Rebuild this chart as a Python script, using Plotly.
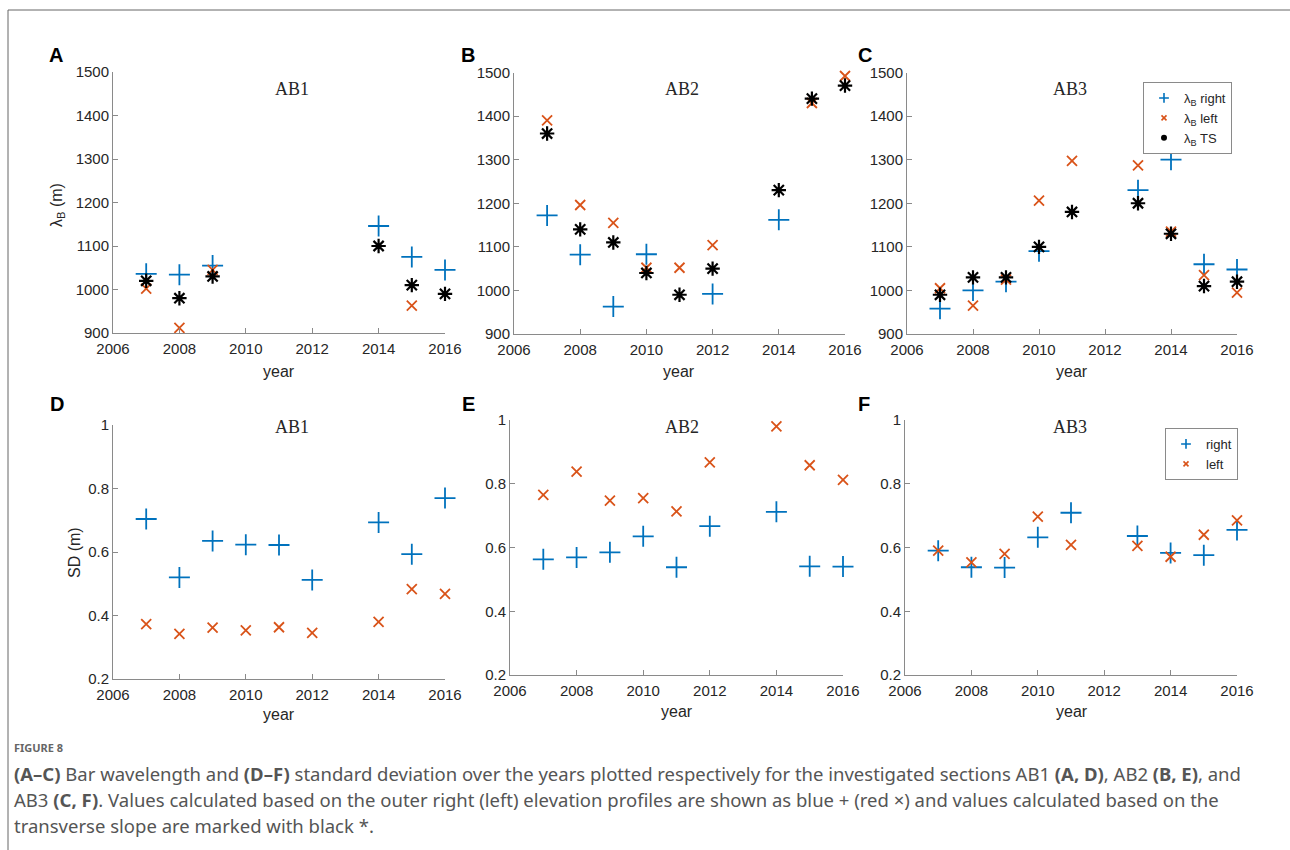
import plotly.graph_objects as go

# ---- data -------------------------------------------------------------
# Bar wavelength lambda_B (m); None = no value within the plotted range
years_A = [2007, 2008, 2009, 2014, 2015, 2016]
lam_right_A = [1036, 1034, 1055, 1146, 1075, 1045]
lam_left_A = [1002, 912, 1045, None, 963, None]
lam_ts_A = [1020, 980, 1030, 1100, 1010, 990]

years_B = [2007, 2008, 2009, 2010, 2011, 2012, 2014, 2015, 2016]
lam_right_B = [1172, 1082, 963, 1083, None, 992, 1162, None, None]
lam_left_B = [1390, 1196, 1155, 1052, 1052, 1104, None, 1430, 1492]
lam_ts_B = [1360, 1140, 1110, 1040, 990, 1050, 1230, 1440, 1470]

years_C = [2007, 2008, 2009, 2010, 2011, 2013, 2014, 2015, 2016]
lam_right_C = [958, 1000, 1020, 1090, None, 1230, 1300, 1060, 1048]
lam_left_C = [1005, 965, 1025, 1206, 1297, 1287, 1135, 1035, 995]
lam_ts_C = [990, 1030, 1030, 1100, 1180, 1200, 1130, 1010, 1020]

# Standard deviation SD (m)
years_D = [2007, 2008, 2009, 2010, 2011, 2012, 2014, 2015, 2016]
sd_right_D = [0.704, 0.520, 0.635, 0.623, 0.622, 0.512, 0.693, 0.593, 0.770]
sd_left_D = [0.373, 0.342, 0.362, 0.353, 0.363, 0.345, 0.380, 0.483, 0.468]

years_E = [2007, 2008, 2009, 2010, 2011, 2012, 2014, 2015, 2016]
sd_right_E = [0.563, 0.569, 0.585, 0.635, 0.538, 0.667, 0.712, 0.541, 0.540]
sd_left_E = [0.765, 0.838, 0.747, 0.755, 0.713, 0.867, 0.980, 0.858, 0.812]

years_F = [2007, 2008, 2009, 2010, 2011, 2013, 2014, 2015, 2016]
sd_right_F = [0.590, 0.538, 0.537, 0.632, 0.709, 0.636, 0.583, 0.576, 0.655]
sd_left_F = [0.590, 0.553, 0.580, 0.697, 0.608, 0.605, 0.571, 0.640, 0.685]

section_names = ["AB1", "AB2", "AB3"]
panel_letters = ["A", "B", "C", "D", "E", "F"]
year_ticks = [2006, 2008, 2010, 2012, 2014, 2016]
lam_ticks = [900, 1000, 1100, 1200, 1300, 1400, 1500]
sd_ticks = [0.2, 0.4, 0.6, 0.8, 1.0]
sd_tick_text = ["0.2", "0.4", "0.6", "0.8", "1"]

# ---- styling ----------------------------------------------------------
W, H = 1290, 850
BLUE = "#0072BD"
RED = "#D95319"
AXIS_GREY = "#8a8a8a"
TEXT = "#262626"
SANS = "Liberation Sans, Arial, sans-serif"
SERIF = "Liberation Serif, Times New Roman, serif"


def px(x):
    return x / W


def py(y):
    return 1 - y / H


fig = go.Figure()

# axes boxes in pixels: (left, right, top, bottom)
boxes = [
    (113, 445, 72, 333),
    (514, 845, 72.5, 334),
    (907, 1237, 72.5, 334),
    (113, 445, 425, 679),
    (510, 843, 420, 675),
    (905, 1237, 420, 675),
]

lam_panels = [
    (years_A, lam_right_A, lam_left_A, lam_ts_A),
    (years_B, lam_right_B, lam_left_B, lam_ts_B),
    (years_C, lam_right_C, lam_left_C, lam_ts_C),
]
sd_panels = [
    (years_D, sd_right_D, sd_left_D),
    (years_E, sd_right_E, sd_left_E),
    (years_F, sd_right_F, sd_left_F),
]

right_marker = dict(symbol="cross-thin", size=15, color=BLUE, line=dict(color=BLUE, width=1.8))
left_marker = dict(symbol="x-thin", size=10, color=RED, line=dict(color=RED, width=1.8))
ts_marker = dict(symbol="asterisk", size=12, color="black", line=dict(color="black", width=2.2))


def add_points(i, x, y, marker):
    suffix = "" if i == 0 else str(i + 1)
    fig.add_trace(go.Scatter(
        x=x, y=y, mode="markers", marker=marker, cliponaxis=False,
        showlegend=False, xaxis="x" + suffix, yaxis="y" + suffix,
    ))


for i, (yrs, r, l, ts) in enumerate(lam_panels):
    add_points(i, yrs, r, right_marker)
    add_points(i, yrs, l, left_marker)
    add_points(i, yrs, ts, ts_marker)

for j, (yrs, r, l) in enumerate(sd_panels):
    add_points(j + 3, yrs, r, right_marker)
    add_points(j + 3, yrs, l, left_marker)

# legend entries (small symbols as in the key)
leg_items = [
    ("λ<sub>B</sub> right", dict(symbol="cross-thin", size=7, color=BLUE, line=dict(color=BLUE, width=1.6)), "legend", "x3", "y3"),
    ("λ<sub>B</sub> left", dict(symbol="x-thin", size=5, color=RED, line=dict(color=RED, width=1.6)), "legend", "x3", "y3"),
    ("λ<sub>B</sub> TS", dict(symbol="circle", size=6, color="black"), "legend", "x3", "y3"),
    ("right", dict(symbol="cross-thin", size=7, color=BLUE, line=dict(color=BLUE, width=1.6)), "legend2", "x6", "y6"),
    ("left", dict(symbol="x-thin", size=5, color=RED, line=dict(color=RED, width=1.6)), "legend2", "x6", "y6"),
]
for name, mk, leg, xa, ya in leg_items:
    fig.add_trace(go.Scatter(
        x=[None], y=[None], mode="markers", marker=mk, name=name,
        showlegend=True, legend=leg, xaxis=xa, yaxis=ya,
    ))

layout = dict(
    width=W, height=H,
    margin=dict(l=0, r=0, t=0, b=0, pad=0, autoexpand=False),
    paper_bgcolor="white", plot_bgcolor="white",
    font=dict(family=SANS, color=TEXT, size=13),
)

for i, (l, r, t, b) in enumerate(boxes):
    suffix = "" if i == 0 else str(i + 1)
    common = dict(
        showline=True, linecolor=AXIS_GREY, linewidth=1, mirror=False,
        ticks="inside", ticklen=5, tickcolor=AXIS_GREY, tickwidth=1,
        showgrid=False, zeroline=False, automargin=False,
        tickfont=dict(family=SANS, size=15, color=TEXT),
    )
    layout["xaxis" + suffix] = dict(
        common, domain=[px(l), px(r)], range=[2006, 2016],
        tickvals=year_ticks, ticktext=[str(v) for v in year_ticks],
        anchor="y" + suffix, ticklabelstandoff=2,
    )
    if i < 3:
        ydict = dict(range=[900, 1500], tickvals=lam_ticks,
                     ticktext=[str(v) for v in lam_ticks])
    else:
        ydict = dict(range=[0.2, 1.0], tickvals=sd_ticks, ticktext=sd_tick_text)
    layout["yaxis" + suffix] = dict(
        common, domain=[py(b), py(t)], anchor="x" + suffix, **ydict,
    )

layout["legend"] = dict(
    x=px(1143), y=py(82), xanchor="left", yanchor="top",
    bgcolor="white", bordercolor=AXIS_GREY, borderwidth=1,
    font=dict(family=SANS, size=13, color=TEXT),
    itemwidth=30, tracegroupgap=0,
)
layout["legend2"] = dict(
    x=px(1165), y=py(428), xanchor="left", yanchor="top",
    bgcolor="white", bordercolor=AXIS_GREY, borderwidth=1,
    font=dict(family=SANS, size=13, color=TEXT),
    itemwidth=30, tracegroupgap=0,
)

annotations = []


def label(x, y, text, font, **kw):
    opts = dict(x=px(x), y=py(y), xref="paper", yref="paper", showarrow=False,
                xanchor="center", yanchor="middle", text=text, font=font)
    opts.update(kw)
    annotations.append(opts)


# section titles
title_pos = [(292, 89), (682, 89), (1070, 89), (292, 427), (682, 427), (1070, 427)]
for k, (x, y) in enumerate(title_pos):
    label(x, y, section_names[k % 3], dict(family=SERIF, size=18, color=TEXT))

# panel letters
letter_pos = [(56, 55), (468, 55), (865, 55), (57, 404), (468, 404), (864, 404)]
for k, (x, y) in enumerate(letter_pos):
    label(x, y, "<b>%s</b>" % panel_letters[k], dict(family=SANS, size=20, color="black"))

# x-axis titles
year_pos = [(279, 371), (679, 371), (1072, 371), (279, 714), (677, 711), (1072, 711)]
for x, y in year_pos:
    label(x, y, "year", dict(family=SANS, size=16, color=TEXT))

# y-axis titles
label(57, 205, "λ<sub>B</sub> (m)", dict(family=SANS, size=16, color=TEXT), textangle=-90)
label(74, 553, "SD (m)", dict(family=SANS, size=16, color=TEXT), textangle=-90)

# caption
CAP = "Noto Sans, sans-serif"
CAP_COLOR = "#555555"
label(12, 747, "<b>FIGURE 8</b>", dict(family=CAP, size=11, color="#666666"), xanchor="left")
caption_lines = [
    "<b>(A–C)</b> Bar wavelength and <b>(D–F)</b> standard deviation over the years plotted respectively for the investigated sections AB1 <b>(A, D)</b>, AB2 <b>(B, E)</b>, and",
    "AB3 <b>(C, F)</b>. Values calculated based on the outer right (left) elevation profiles are shown as blue + (red ×) and values calculated based on the",
    "transverse slope are marked with black *.",
]
for k, line in enumerate(caption_lines):
    label(12, 773 + 26 * k, line, dict(family=CAP, size=18.5, color=CAP_COLOR), xanchor="left")

layout["annotations"] = annotations

# frame lines along the top and left edges
layout["shapes"] = [
    dict(type="line", xref="paper", yref="paper", x0=px(8), x1=1, y0=py(10), y1=py(10),
         line=dict(color="#666666", width=1)),
    dict(type="line", xref="paper", yref="paper", x0=px(8), x1=px(8), y0=py(10), y1=0,
         line=dict(color="#666666", width=1)),
]

fig.update_layout(**layout)
fig.write_html("out.html", post_script="document.body.style.margin='0';")
